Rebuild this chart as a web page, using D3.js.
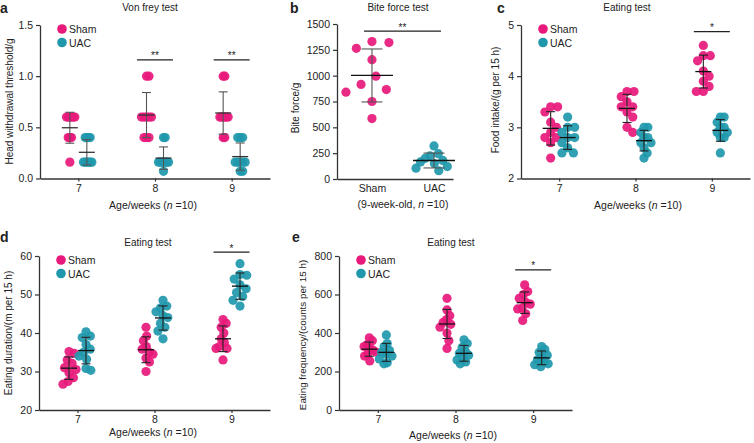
<!DOCTYPE html>
<html><head><meta charset="utf-8">
<script src="https://cdn.jsdelivr.net/npm/d3@7"></script>
<style>
body{margin:0;background:#fff;}
text{font-family:"Liberation Sans",Arial,Helvetica,sans-serif;fill:#222;}
</style>
</head><body>
<svg id="fig" width="754" height="443"></svg>
<script>
// ---------------- DATA ----------------
const weeks = ["7", "8", "9"];
const groups = ["Sham", "UAC"];
const biteGroups = ["Sham", "UAC"];

// a: Von frey test, head withdrawal threshold (g), per week
const vonFreySham = [
  [0.6, 0.6, 0.6, 0.6, 0.6, 0.6, 0.4, 0.4, 0.4, 0.16],
  [1.0, 1.0, 0.6, 0.6, 0.6, 0.6, 0.6, 0.4, 0.4, 0.4],
  [1.0, 1.0, 0.6, 0.6, 0.6, 0.6, 0.6, 0.6, 0.4, 0.4]
];
const vonFreyUAC = [
  [0.4, 0.4, 0.4, 0.4, 0.16, 0.16, 0.16, 0.16, 0.16, 0.16],
  [0.4, 0.4, 0.16, 0.16, 0.16, 0.16, 0.16, 0.16, 0.16, 0.07],
  [0.4, 0.4, 0.4, 0.16, 0.16, 0.16, 0.16, 0.16, 0.07, 0.07]
];
// b: Bite force (g), 9-week-old
const biteSham = [1330, 1320, 1265, 1155, 995, 915, 865, 840, 750, 585];
const biteUAC = [320, 245, 225, 200, 180, 165, 150, 120, 105, 80];
// c: Food intake (g per 15 h)
const intakeSham = [
  [3.4, 3.4, 3.3, 3.1, 3.0, 2.9, 2.8, 2.8, 2.7, 2.4],
  [3.7, 3.7, 3.6, 3.5, 3.4, 3.4, 3.3, 3.2, 3.0, 2.9],
  [4.6, 4.4, 4.4, 4.3, 4.1, 4.0, 3.9, 3.8, 3.7, 3.7]
];
const intakeUAC = [
  [3.2, 3.0, 3.0, 2.9, 2.8, 2.8, 2.7, 2.6, 2.5, 2.5],
  [3.0, 3.0, 2.9, 2.8, 2.8, 2.7, 2.7, 2.6, 2.5, 2.4],
  [3.2, 3.2, 3.1, 3.0, 3.0, 2.9, 2.9, 2.8, 2.8, 2.5]
];
// d: Eating duration (m per 15 h)
const durationSham = [
  [35.2, 34.7, 33.0, 32.1, 31.0, 30.5, 29.7, 28.4, 27.4, 26.7],
  [41.5, 39.2, 38.0, 36.5, 35.8, 35.0, 34.5, 33.5, 32.5, 30.0],
  [43.5, 42.5, 41.5, 40.0, 38.5, 37.5, 36.5, 36.0, 36.0, 33.0]
];
const durationUAC = [
  [40.3, 39.2, 38.8, 37.0, 35.8, 35.0, 34.0, 33.2, 30.8, 30.3],
  [48.5, 47.0, 46.5, 45.5, 44.5, 44.0, 42.5, 41.5, 40.5, 38.5],
  [58.0, 55.2, 55.0, 54.0, 52.5, 51.5, 50.5, 49.5, 48.5, 47.0]
];
// e: Eating frequency (counts per 15 h)
const frequencySham = [
  [375, 360, 340, 330, 320, 310, 300, 290, 280, 255],
  [580, 520, 490, 470, 455, 445, 430, 400, 360, 320],
  [650, 615, 600, 580, 560, 550, 530, 525, 500, 465]
];
const frequencyUAC = [
  [390, 345, 330, 310, 300, 290, 280, 265, 245, 240],
  [365, 345, 325, 305, 295, 285, 275, 260, 250, 240],
  [330, 315, 300, 285, 270, 260, 250, 240, 235, 225]
];

// tick values
const ticksA = [0, 0.5, 1.0, 1.5];
const ticksB = [0, 250, 500, 750, 1000, 1250, 1500];
const ticksC = [2, 3, 4, 5];
const ticksD = [20, 30, 40, 50, 60];
const ticksE = [0, 200, 400, 600, 800];

// significance marks
const sigA = [{at: "8", label: "**", level: 1.16}, {at: "9", label: "**", level: 1.16}];
const sigB = [{from: "Sham", to: "UAC", label: "**", level: 1432}];
const sigC = [{at: "9", label: "*", level: 4.87}];
const sigD = [{at: "9", label: "*", level: 61}];
const sigE = [{at: "9", label: "*", level: 728}];

// ---------------- DRAWING ----------------
const COL = {Sham: "#e8197b", UAC: "#1f98ac"};
const svg = d3.select("#fig");
const FS = 10.5;

function swarm(vals, y, cx, dia, maxHalf) {
  const pts = vals.map(v => ({v, y: y(v), x: 0}));
  const order = pts.slice().sort((a, b) => a.y - b.y);
  const placed = [];
  for (const p of order) {
    const near = placed.filter(q => Math.abs(q.y - p.y) < dia);
    const cands = [0];
    for (const q of near) {
      const dx = Math.sqrt(dia * dia - (q.y - p.y) ** 2);
      cands.push(q.x + dx, q.x - dx);
    }
    cands.sort((a, b) => Math.abs(a) - Math.abs(b) || b - a);
    for (const c of cands) {
      if (near.every(q => (q.x - c) ** 2 + (q.y - p.y) ** 2 >= dia * dia - 1e-6)) { p.x = c; break; }
    }
    placed.push(p);
  }
  const m = d3.max(pts, p => Math.abs(p.x)) || 1;
  const k = m > maxHalf ? maxHalf / m : 1;
  pts.forEach(p => p.x = cx + p.x * k);
  return pts;
}

function styleAxis(g) {
  g.select(".domain").attr("stroke", "#333").attr("stroke-width", 1.3);
  g.selectAll(".tick line").attr("stroke", "#333").attr("stroke-width", 1.2);
  g.selectAll(".tick text").attr("font-size", FS).attr("fill", "#222")
    .style("font-family", '"Liberation Sans",Arial,sans-serif');
}

function drawGroup(g, vals, y, cx, o) {
  const pts = swarm(vals, y, cx, o.dia, o.maxHalf);
  g.selectAll(null).data(pts).enter().append("circle")
    .attr("cx", d => d.x).attr("cy", d => d.y).attr("r", o.r)
    .attr("fill", o.color).attr("fill-opacity", 0.92);
  const m = d3.mean(vals), s = d3.deviation(vals);
  const bar = g.append("g").attr("stroke", o.sdColor).attr("stroke-width", 1.1).attr("fill", "none");
  bar.append("line").attr("x1", cx).attr("x2", cx).attr("y1", y(m + s)).attr("y2", y(m - s));
  bar.append("line").attr("x1", cx - o.cap).attr("x2", cx + o.cap).attr("y1", y(m + s)).attr("y2", y(m + s));
  bar.append("line").attr("x1", cx - o.cap).attr("x2", cx + o.cap).attr("y1", y(m - s)).attr("y2", y(m - s));
  g.append("line").attr("x1", cx - o.meanW).attr("x2", cx + o.meanW).attr("y1", y(m)).attr("y2", y(m))
    .attr("stroke", o.meanColor).attr("stroke-width", 1.3);
}

function legend(x, y) {
  groups.forEach((gname, i) => {
    svg.append("circle").attr("cx", x).attr("cy", y + i * 13.5).attr("r", 4.8).attr("fill", COL[gname]);
    svg.append("text").attr("x", x + 7).attr("y", y + i * 13.5 + 4).attr("font-size", FS).text(gname);
  });
}

function ageTitle(cx, y) {
  const t = svg.append("text").attr("x", cx).attr("y", y).attr("text-anchor", "middle").attr("font-size", FS);
  t.append("tspan").text("Age/weeks (");
  t.append("tspan").attr("font-style", "italic").text("n");
  t.append("tspan").text(" =10)");
}

function sigMark(x1, x2, yy, label) {
  svg.append("line").attr("x1", x1).attr("x2", x2).attr("y1", yy).attr("y2", yy)
    .attr("stroke", "#222").attr("stroke-width", 1.2);
  svg.append("text").attr("x", (x1 + x2) / 2).attr("y", yy - 0.5).attr("text-anchor", "middle")
    .attr("font-size", 10).text(label);
}

function weekPanel(p) {
  const x = d3.scalePoint().domain(weeks).range([p.x0, p.x1]).padding(0.5);
  const y = d3.scaleLinear().domain(p.domain).range([p.yb, p.yt]);
  const gx = svg.append("g").attr("transform", `translate(0,${p.yb})`)
    .call(d3.axisBottom(x).tickSize(3).tickPadding(3).tickSizeOuter(0));
  styleAxis(gx);
  gx.selectAll(".tick text").attr("dy", "0.71em");
  const gy = svg.append("g").attr("transform", `translate(${p.x0},0)`)
    .call(d3.axisLeft(y).tickValues(p.ticks).tickFormat(p.fmt).tickSize(4).tickPadding(3).tickSizeOuter(0));
  styleAxis(gy);
  const plot = svg.append("g");
  weeks.forEach((w, i) => {
    groups.forEach((gname, j) => {
      const vals = (j === 0 ? p.sham : p.uac)[i];
      drawGroup(plot.append("g"), vals, y, x(w) + (j === 0 ? -8.5 : 8.5), {
        dia: 9, maxHalf: p.maxHalf, r: 4.6, color: COL[gname], cap: 4.5, meanW: 8,
        sdColor: p.sdColor, meanColor: p.meanColor
      });
    });
  });
  p.sig.forEach(s => sigMark(x(s.at) - 18, x(s.at) + 18, y(s.level), s.label));
  legend(p.x0 + 22, p.yt + 4);
  return {x, y};
}

// panel letters and titles
function letter(t, x, y) {
  svg.append("text").attr("x", x).attr("y", y).attr("font-size", 14).attr("font-weight", "bold").text(t);
}
function title(t, x, y) {
  svg.append("text").attr("x", x).attr("y", y).attr("text-anchor", "middle").attr("font-size", 10).text(t);
}
function ytitle(t, x, y, fs) {
  svg.append("text").attr("transform", `translate(${x},${y}) rotate(-90)`).attr("text-anchor", "middle")
    .attr("font-size", fs || 10).text(t);
}

// Panel a
weekPanel({x0: 40, x1: 270, yb: 178.5, yt: 25, domain: [0, 1.5], ticks: ticksA, fmt: d3.format(".1f"),
  sham: vonFreySham, uac: vonFreyUAC, sig: sigA, maxHalf: 5, sdColor: "#555", meanColor: "#333"});
letter("a", 0, 13);
title("Von frey test", 150, 11);
ytitle("Head withdrawal threshold/g", 13, 101.5);
ageTitle(153, 209);

// Panel b
{
  const x = d3.scalePoint().domain(biteGroups).range([337, 453]).padding(0.435).align(0.648);
  const y = d3.scaleLinear().domain([0, 1500]).range([179, 24]);
  const gx = svg.append("g").attr("transform", "translate(0,179)")
    .call(d3.axisBottom(x).tickSize(0).tickPadding(6).tickSizeOuter(0));
  styleAxis(gx);
  gx.selectAll(".tick text").attr("dy", "0.71em");
  const gy = svg.append("g").attr("transform", "translate(337,0)")
    .call(d3.axisLeft(y).tickValues(ticksB).tickFormat(d3.format("d")).tickSize(4).tickPadding(3).tickSizeOuter(0));
  styleAxis(gy);
  const spread = [30, 18];
  [biteSham, biteUAC].forEach((vals, j) => {
    drawGroup(svg.append("g"), vals, y, x(biteGroups[j]), {
      dia: 17, maxHalf: spread[j], r: 4.6, color: COL[groups[j]], cap: 10.5, meanW: 21,
      sdColor: "#555", meanColor: "#111"
    });
  });
  sigB.forEach(s => sigMark(x(s.from) - 8, x(s.to) + 7, y(s.level), s.label));
  letter("b", 290, 13);
  title("Bite force test", 398, 11);
  ytitle("Bite force/g", 299, 108);
  const t = svg.append("text").attr("x", 403).attr("y", 208).attr("text-anchor", "middle").attr("font-size", FS);
  t.append("tspan").text("(9-week-old, ");
  t.append("tspan").attr("font-style", "italic").text("n");
  t.append("tspan").text(" =10)");
}

// Panel c
weekPanel({x0: 521, x1: 750, yb: 178.5, yt: 25, domain: [2, 5], ticks: ticksC, fmt: d3.format("d"),
  sham: intakeSham, uac: intakeUAC, sig: sigC, maxHalf: 7, sdColor: "#222", meanColor: "#111"});
letter("c", 497, 13);
title("Eating test", 627, 11);
ytitle("Food intake/(g per 15 h)", 499, 100);
ageTitle(638, 209);

// Panel d
weekPanel({x0: 39, x1: 270, yb: 410, yt: 256, domain: [20, 60], ticks: ticksD, fmt: d3.format("d"),
  sham: durationSham, uac: durationUAC, sig: sigD, maxHalf: 7, sdColor: "#222", meanColor: "#111"});
letter("d", 0, 242);
title("Eating test", 148, 246);
ytitle("Eating duration/(m per 15 h)", 12, 333);
ageTitle(153, 436);

// Panel e
weekPanel({x0: 339, x1: 572, yb: 410, yt: 256, domain: [0, 800], ticks: ticksE, fmt: d3.format("d"),
  sham: frequencySham, uac: frequencyUAC, sig: sigE, maxHalf: 7, sdColor: "#222", meanColor: "#111"});
letter("e", 292, 242);
title("Eating test", 451, 246);
ytitle("Eating frequency/(counts per 15 h)", 306, 335, 9.8);
ageTitle(453, 439);
</script>
</body></html>
